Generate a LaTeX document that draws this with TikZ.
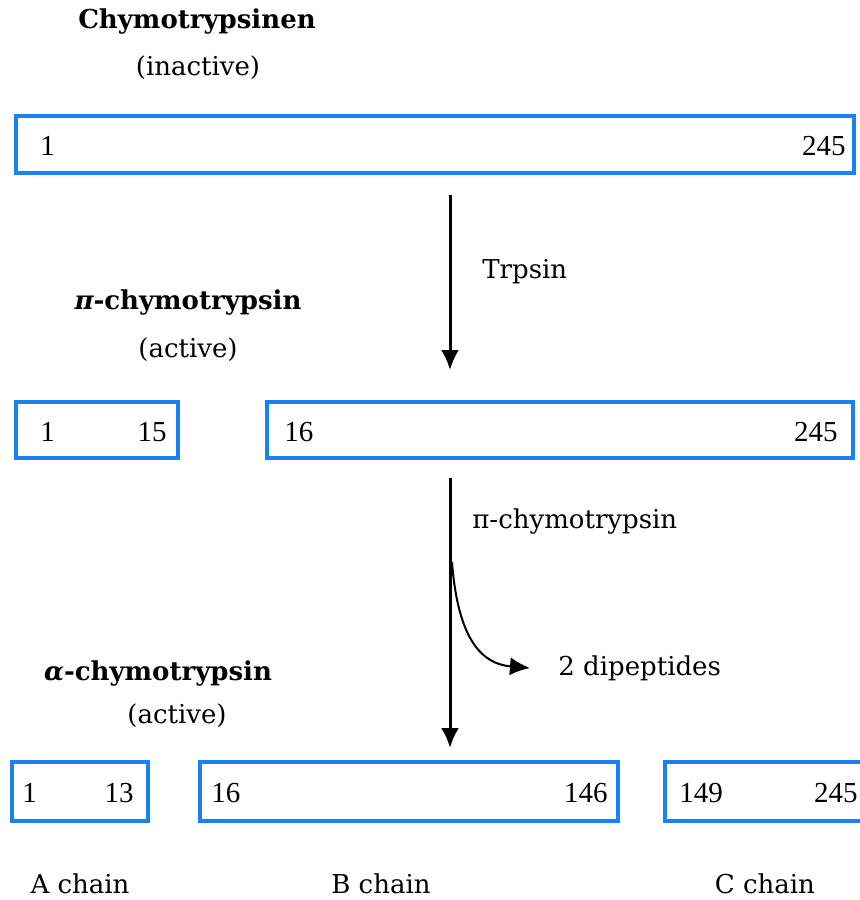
\documentclass[tikz,border=0pt]{standalone}
\usepackage{fontspec}
\setmainfont{DejaVu Serif}
\newfontfamily\numfont{Liberation Serif}
\usetikzlibrary{arrows.meta}

\definecolor{chainblue}{RGB}{25,130,240}

\begin{document}
\begin{tikzpicture}[%
      x=0.5pt, y=-0.5pt, %
      chainbox/.style = {draw=chainblue, line width=2.4pt, fill=white, inner sep=0pt},
      resno/.style = {font=\numfont\fontsize{14.5}{16}\selectfont, inner sep=0pt},
      label/.style = {font=\fontsize{13}{15}\selectfont, inner sep=0pt},
      title/.style = {font=\bfseries\fontsize{13}{15}\selectfont, inner sep=0pt},
      flow/.style = {line width=1.5pt, -{Latex[length=10pt, width=9pt]}},
      ]
      \useasboundingbox (0,0) rectangle (860,900);
      \clip (0,0) rectangle (860,900);
      \fill[white] (0,0) rectangle (860,900);

      % Chymotrypsinogen
      \node[title] (zymo) at (197,22) {Chymotrypsinen};
      \node[label] (zymostate) at (198,68) {(inactive)};

      \node[chainbox, minimum width=419pt, minimum height=28.5pt] (pro) at (435,144.5) {};
      \node[resno, anchor=west] (pro1) at (40,146) {1};
      \node[resno, anchor=east] (pro245) at (846,146) {245};

      % Trypsin cut
      \coordinate (cutA) at (450,195);
      \coordinate (cutAend) at (450,370);
      \draw[flow] (cutA) -- (cutAend);
      \node[label, anchor=west] (trypsin) at (482,272) {Trpsin};

      % pi-chymotrypsin
      \node[title] (pichymo) at (188,303) {{\itshape π}-chymotrypsin};
      \node[label] (pistate) at (188,350) {(active)};

      \node[chainbox, minimum width=81pt, minimum height=28pt] (piA) at (97,430) {};
      \node[chainbox, minimum width=293pt, minimum height=28pt] (piB) at (560,430) {};
      \node[resno, anchor=west] (piA1) at (40,432) {1};
      \node[resno, anchor=east] (piA15) at (167,432) {15};
      \node[resno, anchor=west] (piB16) at (284,432) {16};
      \node[resno, anchor=east] (piB245) at (838,432) {245};

      % Autolysis
      \coordinate (cutB) at (450,478);
      \coordinate (cutBend) at (450,748);
      \coordinate (split) at (452,562);
      \draw[flow] (cutB) -- (cutBend);
      \node[label, anchor=west] (autocut) at (472,522) {π-chymotrypsin};
      \node[label, anchor=west] (dipep) at (558,668) {2 dipeptides};
      \draw[line width=1pt, -{Latex[length=10pt, width=9pt]}]
        (split) .. controls (458,640) and (482,664) .. (dipep.west -| 530,0);

      % alpha-chymotrypsin
      \node[title] (alchymo) at (158,674) {{\itshape α}-chymotrypsin};
      \node[label] (alstate) at (177,716) {(active)};

      \node[chainbox, minimum width=68pt, minimum height=29.5pt] (alA) at (80,791.5) {};
      \node[chainbox, minimum width=209pt, minimum height=29.5pt] (alB) at (409,791.5) {};
      \node[chainbox, minimum width=100.5pt, minimum height=29.5pt] (alC) at (765.5,791.5) {};
      \node[resno, anchor=west] (alA1) at (22,793) {1};
      \node[resno, anchor=east] (alA13) at (134,793) {13};
      \node[resno, anchor=west] (alB16) at (211,793) {16};
      \node[resno, anchor=east] (alB146) at (608,793) {146};
      \node[resno, anchor=west] (alC149) at (679,793) {149};
      \node[resno, anchor=east] (alC245) at (858,793) {245};

      % chain names
      \foreach \cx/\cname in {80/A, 381/B, 765/C}{
        \node[label] (chain\cname) at (\cx,884) {\cname\ chain};
      }

    \end{tikzpicture}
\end{document}
